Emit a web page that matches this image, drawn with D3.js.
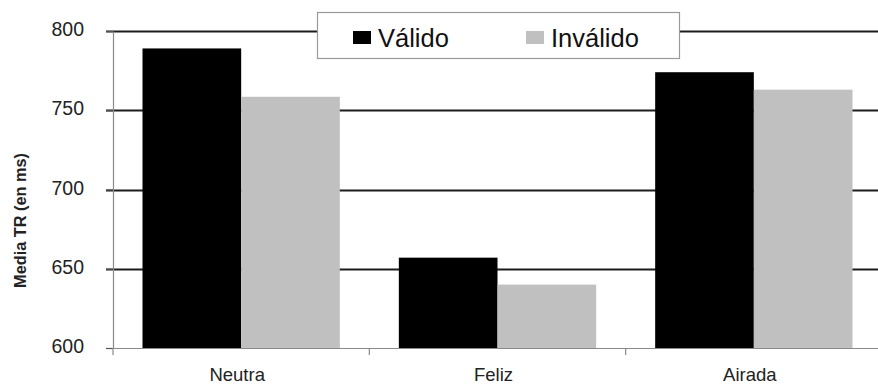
<!DOCTYPE html>
<html>
<head>
<meta charset="utf-8">
<script src="https://cdn.jsdelivr.net/npm/d3@7/dist/d3.min.js"></script>
<style>
  html, body { margin: 0; padding: 0; background: #fff; }
  svg { display: block; font-family: "Liberation Sans", Arial, sans-serif; }
</style>
</head>
<body>
<svg id="chart" width="878" height="385"></svg>
<script>
// Reaction-time means by facial expression and cue validity
const categories = ["Neutra", "Feliz", "Airada"];
const seriesNames = ["Válido", "Inválido"];
const valido = [789, 657, 774];
const invalido = [758.5, 640, 763];
const yTicks = [600, 650, 700, 750, 800];
const colors = ["#000000", "#c0c0c0"];

const rows = categories.map((c, i) => ({ cat: c, values: [valido[i], invalido[i]] }));

const svg = d3.select("#chart");
const plotLeft = 113, plotRight = 882, plotTop = 31, plotBottom = 348;

const x = d3.scaleBand().domain(categories).range([plotLeft, plotRight]).padding(0);
const xInner = d3.scaleBand().domain(seriesNames)
  .range([29.5, x.bandwidth() - 29.5]).padding(0);
const y = d3.scaleLinear().domain([600, 800]).range([plotBottom, plotTop]);

// horizontal gridlines (with their left tick stubs)
svg.append("g")
  .selectAll("line")
  .data(yTicks.filter(t => t !== 600))
  .join("line")
  .attr("x1", plotLeft - 7).attr("x2", plotRight)
  .attr("y1", d => Math.round(y(d)) + 0.5).attr("y2", d => Math.round(y(d)) + 0.5)
  .attr("stroke", "#1c1c1c").attr("stroke-width", 1.8);

// bars
const groups = svg.append("g").selectAll("g")
  .data(rows).join("g")
  .attr("transform", d => `translate(${x(d.cat)},0)`);
groups.selectAll("rect")
  .data(d => d.values.map((v, i) => ({ key: seriesNames[i], v, i })))
  .join("rect")
  .attr("x", d => xInner(d.key))
  .attr("width", xInner.bandwidth())
  .attr("y", d => y(d.v))
  .attr("height", d => y(600) - y(d.v))
  .attr("fill", d => colors[d.i]);

// y axis
const yAxis = svg.append("g")
  .attr("transform", `translate(${plotLeft},0)`)
  .call(d3.axisLeft(y).tickValues(yTicks).tickSize(7).tickPadding(22).tickSizeOuter(0));
yAxis.select(".domain").attr("stroke", "#8a8a8a").attr("stroke-width", 1.2);
yAxis.selectAll(".tick line").attr("stroke", "#555").attr("stroke-width", 1.2);
yAxis.selectAll(".tick text")
  .attr("font-size", 19.5).attr("fill", "#222").attr("dy", "0.24em")
  .attr("font-family", "'Liberation Sans', Arial, sans-serif");

// x axis
const xAxis = svg.append("g")
  .attr("transform", `translate(0,${plotBottom})`)
  .call(d3.axisBottom(x).tickSize(0).tickPadding(20).tickSizeOuter(0));
xAxis.select(".domain").attr("stroke", "#8a8a8a").attr("stroke-width", 1.2);
xAxis.selectAll(".tick text")
  .attr("font-size", 18.5).attr("fill", "#222").attr("dx", -4)
  .attr("font-family", "'Liberation Sans', Arial, sans-serif");
// category separators below the axis
xAxis.append("g").selectAll("line")
  .data(d3.range(categories.length + 1))
  .join("line")
  .attr("x1", i => plotLeft + i * x.bandwidth()).attr("x2", i => plotLeft + i * x.bandwidth())
  .attr("y1", 0).attr("y2", 7)
  .attr("stroke", "#8a8a8a").attr("stroke-width", 1.2);

// y-axis title
svg.append("text")
  .attr("transform", "translate(26,220.5) rotate(-90)")
  .attr("text-anchor", "middle")
  .attr("font-size", 16.3).attr("font-weight", "bold").attr("fill", "#222")
  .text("Media TR (en ms)");

// legend
const legend = svg.append("g");
legend.append("rect")
  .attr("x", 317.5).attr("y", 12.5).attr("width", 362).attr("height", 46)
  .attr("fill", "#fff").attr("stroke", "#9a9a9a").attr("stroke-width", 1.2);
const legendX = [353, 526];
seriesNames.forEach((name, i) => {
  legend.append("rect")
    .attr("x", legendX[i]).attr("y", 31).attr("width", 18).attr("height", 13)
    .attr("fill", colors[i]);
  legend.append("text")
    .attr("x", legendX[i] + 25).attr("y", 46.5)
    .attr("font-size", 25.5).attr("fill", "#111")
    .text(name);
});
</script>
</body>
</html>
